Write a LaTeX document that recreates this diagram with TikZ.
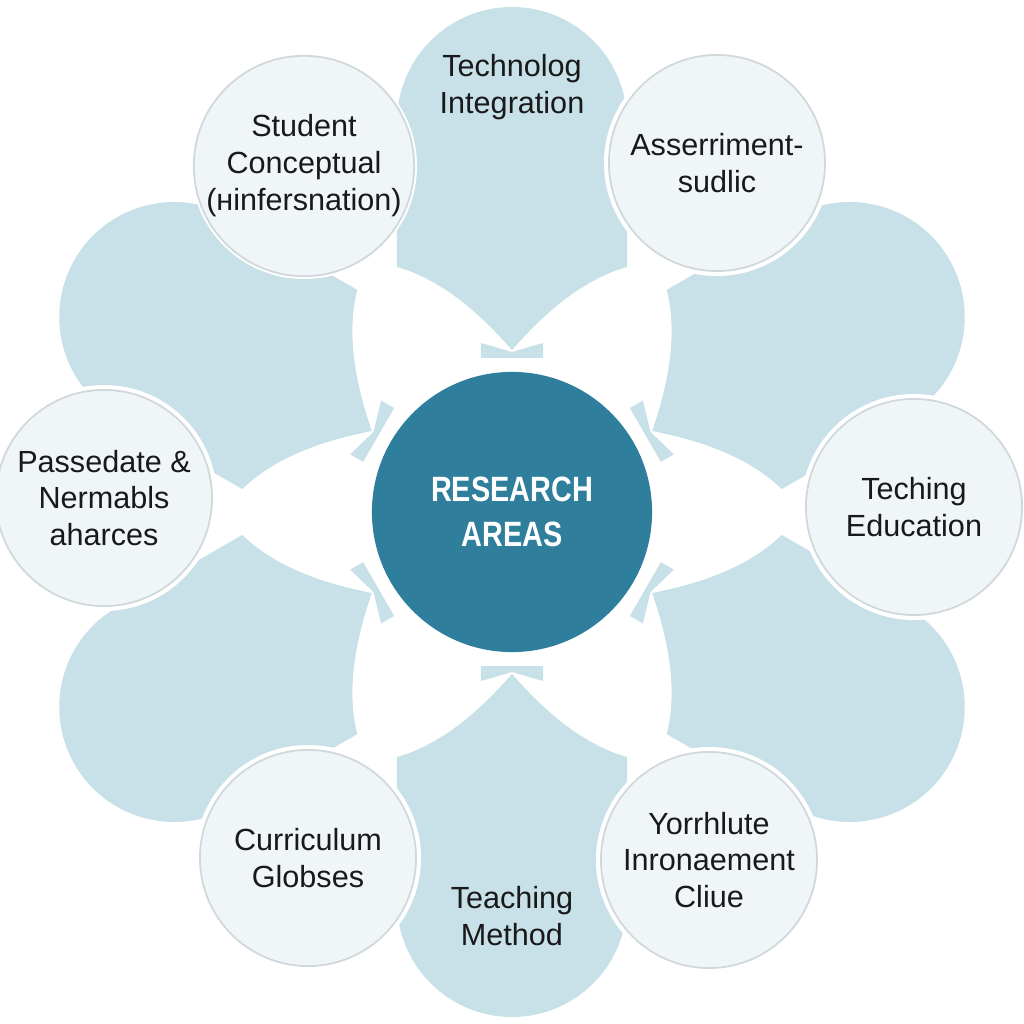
\documentclass[tikz,border=0pt]{standalone}
\usepackage{fontspec}
\setmainfont{Liberation Sans}
\newfontfamily\condfont[FakeStretch=0.82]{Liberation Sans}
\definecolor{petalblue}{RGB}{200,225,232}
\definecolor{coreteal}{RGB}{46,126,156}
\definecolor{palefill}{RGB}{240,245,248}
\definecolor{ringgray}{RGB}{208,216,220}
\definecolor{inkblack}{RGB}{25,25,25}

\begin{document}
\begin{tikzpicture}[x=0.01cm, y=0.01cm,
  petal/.style={fill=petalblue},
  topic/.style={circle, minimum size=2.16cm, inner sep=0pt, fill=palefill, draw=ringgray, line width=0.5pt, align=center, text=inkblack, font=\fontsize{8.7}{10.5}\selectfont},
  petaltext/.style={align=center, text=inkblack, font=\fontsize{8.7}{10.5}\selectfont},
  core/.style={circle, minimum size=2.8cm, inner sep=0pt, fill=coreteal, text=white, align=center, font=\condfont\bfseries\fontsize{10}{12.8}\selectfont}]
\fill[white] (-512,-512) rectangle (512,512);
\useasboundingbox (-512,-512) rectangle (512,512);

\foreach \a in {30,90,...,330} {
  \begin{scope}[rotate=\a]
    \fill[petal] (162,0) .. controls (180,-16) and (230,-60) .. (245,-115) -- (390,-115)
      arc[start angle=-90, end angle=90, radius=115] -- (245,115)
      .. controls (230,60) and (180,16) .. (162,0) -- cycle;
    \fill[petal] (154,-31) -- (169,-31) -- (160,0) -- (169,31) -- (154,31) -- cycle;
  \end{scope}
}

\coordinate (stud) at (-208,346);
\coordinate (asse) at (205,349);
\coordinate (pass) at (-408,14);
\coordinate (tech) at (402,5);
\coordinate (curr) at (-204,-346);
\coordinate (yorr) at (197,-348);

\foreach \c in {stud,asse,pass,tech,curr,yorr}
  \fill[white] (\c) circle (113);

\node[topic] (student) at (stud) {Student\\Conceptual\\(нinfersnation)};
\node[topic] (assess) at (asse) {Asserriment-\\sudlic};
\node[topic] (passedate) at (pass) {Passedate \&\\Nermabls\\aharces};
\node[topic] (teching) at (tech) {Teching\\Education};
\node[topic] (curric) at (curr) {Curriculum\\Globses};
\node[topic] (yorrhlute) at (yorr) {Yorrhlute\\Inronaement\\Cliue};

\node[core] (research) at (0,0) {RESEARCH\\AREAS};

\node[petaltext] (techint) at (0,425) {Technolog\\Integration};
\node[petaltext] (teachmeth) at (0,-404) {Teaching\\Method};
\end{tikzpicture}
\end{document}
